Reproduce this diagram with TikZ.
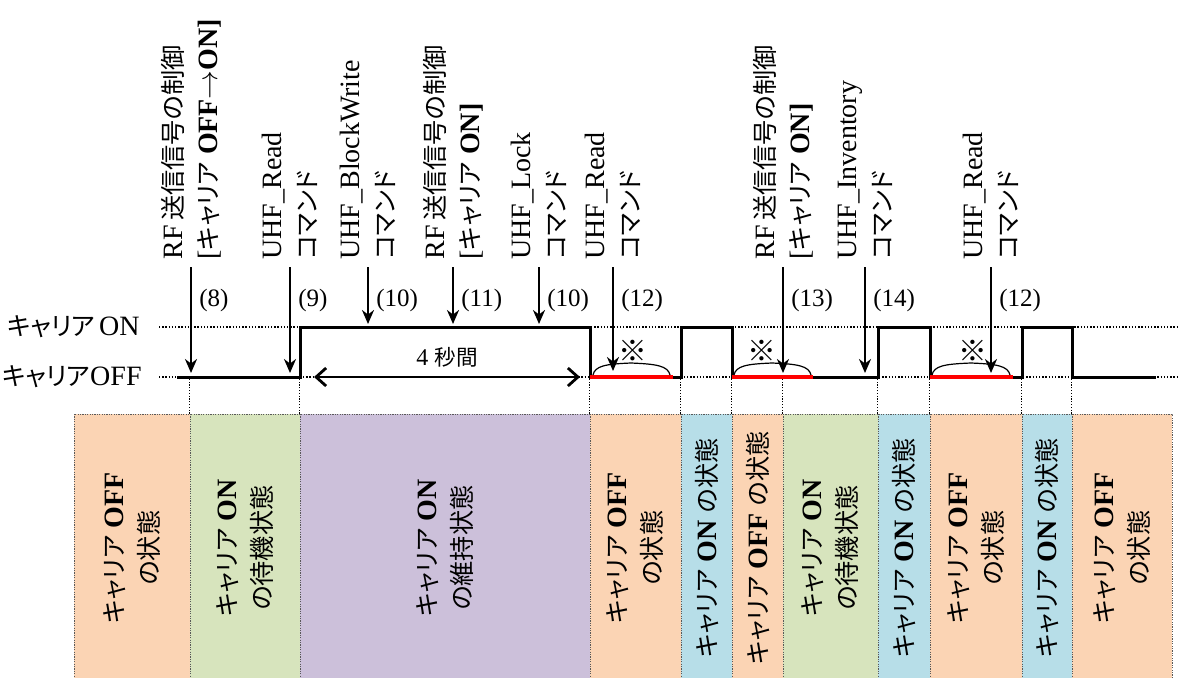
\documentclass[tikz,border=0pt]{standalone}
\usepackage{fontspec}
\setmainfont{Liberation Serif}
\newfontfamily\jpfont[Scale=0.9,RawFeature=+palt]{Noto Sans CJK JP}
\usepackage{xcolor}
\usepackage{tikz}
\usetikzlibrary{arrows.meta,positioning,calc}
\definecolor{offc}{HTML}{FBD4B4}
\definecolor{waitc}{HTML}{D7E4BD}
\definecolor{keepc}{HTML}{CCC0DA}
\definecolor{onc}{HTML}{B7DEE8}
\newcommand{\jt}[1]{{\jpfont #1}}

\begin{document}
\begin{tikzpicture}[
 x=0.5pt, y=-0.5pt,
 font=\fontsize{14pt}{17.5pt}\selectfont,
 >={Stealth[length=7pt,width=6pt]},
 cmdlbl/.style={rotate=90, anchor=west, align=left, inner xsep=3.5pt, inner ysep=0pt},
 num/.style={anchor=west, inner sep=0pt, font=\fontsize{12.5pt}{15pt}\selectfont},
 cmd/.style={->, line width=1.4pt},
 wave/.style={line width=1.5pt, line join=miter},
 idle/.style={line width=2pt, red},
 dotline/.style={line width=0.7pt, dash pattern=on 0.7pt off 0.9pt},
 vdot/.style={line width=0.5pt, dash pattern=on 0.6pt off 0.8pt},
 stbox/.style={rectangle, draw=black!65, line width=0.5pt, dash pattern=on 0.6pt off 0.6pt,
 fill=#1, rotate=90, minimum width=134pt, inner sep=0pt, align=center},
 brc/.style={line width=0.6pt},
]
\useasboundingbox (0,0) rectangle (1178,677);

% carrier levels
\node[anchor=east, inner sep=0pt] (lblOn) at (140,327) {\jt{キャリア}\kern2pt ON};
\node[anchor=east, inner sep=0pt] (lblOff) at (142,377) {\jt{キャリア}OFF};
\coordinate (onEnd) at (1178,327);
\coordinate (offEnd) at (1178,377);
\coordinate (offL) at (159,377);
\draw[dotline] ([xshift=9.5pt]lblOn.east) -- (onEnd);
\draw[dotline] (offL) -- (offEnd);

% state boxes
\node[stbox=offc, minimum height=58pt] (s1) at (132,548) {\jt{キャリア} \textbf{OFF}\\\jt{の状態}};
\node[stbox=waitc, minimum height=55pt] (s2) at (245,548) {\jt{キャリア} \textbf{ON}\\\jt{の待機状態}};
\node[stbox=keepc, minimum height=145pt] (s3) at (445,548) {\jt{キャリア} \textbf{ON}\\\jt{の維持状態}};
\node[stbox=offc, minimum height=45.5pt] (s4) at (635.5,548) {\jt{キャリア} \textbf{OFF}\\\jt{の状態}};
\node[stbox=onc, minimum height=25.5pt] (s5) at (706.5,548) {\jt{キャリア} \textbf{ON} \jt{の状態}};
\node[stbox=offc, minimum height=25.5pt] (s6) at (757.5,548) {\jt{キャリア} \textbf{OFF} \jt{の状態}};
\node[stbox=waitc, minimum height=47.5pt] (s7) at (830.5,548) {\jt{キャリア} \textbf{ON}\\\jt{の待機状態}};
\node[stbox=onc, minimum height=26pt] (s8) at (904,548) {\jt{キャリア} \textbf{ON} \jt{の状態}};
\node[stbox=offc, minimum height=46pt] (s9) at (976,548) {\jt{キャリア} \textbf{OFF}\\\jt{の状態}};
\node[stbox=onc, minimum height=25pt] (s10) at (1047,548) {\jt{キャリア} \textbf{ON} \jt{の状態}};
\node[stbox=offc, minimum height=50pt] (s11) at (1122,548) {\jt{キャリア} \textbf{OFF}\\\jt{の状態}};

% drop lines from the trace to the boxes
\draw[vdot] (s2.north east) -- (s2.north east |- offL);
\draw[vdot] (s3.north east) -- (s3.north east |- offL);
\draw[vdot] (s4.north east) -- (s4.north east |- offL);
\draw[vdot] (s5.north east) -- (s5.north east |- offL);
\draw[vdot] (s6.north east) -- (s6.north east |- offL);
\draw[vdot] (s7.north east) -- (s7.north east |- offL);
\draw[vdot] (s8.north east) -- (s8.north east |- offL);
\draw[vdot] (s9.north east) -- (s9.north east |- offL);
\draw[vdot] (s10.north east) -- (s10.north east |- offL);
\draw[vdot] (s11.north east) -- (s11.north east |- offL);

% carrier trace
\draw[wave] (177,377) -- (300,377) -- (300,327) -- (590,327) -- (590,377) -- (681,377)
 -- (681,327) -- (732,327) -- (732,377) -- (878,377) -- (878,327) -- (930,327) -- (930,377)
 -- (1022,377) -- (1022,327) -- (1072,327) -- (1072,377) -- (1156,377);
\draw[idle] (590,377) -- (673,377);
\draw[idle] (732,377) -- (813,377);
\draw[idle] (930,377) -- (1013,377);

% 4 s hold
\coordinate (holdA) at (314,377);
\coordinate (holdB) at (580,377);
\draw[{Straight Barb[length=5pt,width=9pt]}-{Straight Barb[length=5pt,width=9pt]}, line width=1.4pt]
 (holdA) -- node[above=1pt, font=\fontsize{12pt}{14pt}\selectfont] {4 \jt{秒間}} (holdB);

% retry windows
\draw[brc] (593,375) .. controls (595,366) and (605,364) .. (631,363) .. controls (657,364) and (668,366) .. (670,375);
\draw[brc] (734,375) .. controls (736,366) and (746,364) .. (772,363) .. controls (798,364) and (809,366) .. (811,375);
\draw[brc] (932,375) .. controls (934,366) and (944,364) .. (971,363) .. controls (997,364) and (1008,366) .. (1010,375);
\node[font=\fontsize{16pt}{16pt}\selectfont] (k1) at (633,351) {\jt{※}};
\node[font=\fontsize{16pt}{16pt}\selectfont] (k2) at (762,351) {\jt{※}};
\node[font=\fontsize{16pt}{16pt}\selectfont] (k3) at (973,351) {\jt{※}};

% commands
\node[cmdlbl] (c8) at (191,267) {RF\,\jt{送信信号の制御}\\{}[\jt{キャリア} \textbf{OFF}$\rightarrow$\textbf{ON]}};
\node[cmdlbl] (c9) at (290,267) {UHF\_Read\\\jt{コマンド}};
\node[cmdlbl] (c10a) at (368,267) {UHF\_BlockWrite\\\jt{コマンド}};
\node[cmdlbl] (c11) at (453,267) {RF\,\jt{送信信号の制御}\\{}[\jt{キャリア} \textbf{ON]}};
\node[cmdlbl] (c10b) at (539,267) {UHF\_Lock\\\jt{コマンド}};
\node[cmdlbl] (c12a) at (613,267) {UHF\_Read\\\jt{コマンド}};
\node[cmdlbl] (c13) at (783,267) {RF\,\jt{送信信号の制御}\\{}[\jt{キャリア} \textbf{ON]}};
\node[cmdlbl] (c14) at (865,267) {UHF\_Inventory\\\jt{コマンド}};
\node[cmdlbl] (c12b) at (991,267) {UHF\_Read\\\jt{コマンド}};

\coordinate (t8) at (191,373);
\coordinate (t9) at (290,373);
\coordinate (t10a) at (368,324);
\coordinate (t11) at (453,324);
\coordinate (t10b) at (539,324);
\coordinate (t12a) at (613,371);
\coordinate (t13) at (783,373);
\coordinate (t14) at (865,373);
\coordinate (t12b) at (991,373);
\draw[cmd] (c8.west) -- (t8);
\draw[cmd] (c9.west) -- (t9);
\draw[cmd] (c10a.west) -- (t10a);
\draw[cmd] (c11.west) -- (t11);
\draw[cmd] (c10b.west) -- (t10b);
\draw[cmd] (c12a.west) -- (t12a);
\draw[cmd] (c13.west) -- (t13);
\draw[cmd] (c14.west) -- (t14);
\draw[cmd] (c12b.west) -- (t12b);

\node[num] (n8) at (199,300) {(8)};
\node[num] (n9) at (298,300) {(9)};
\node[num] (n10a) at (376,300) {(10)};
\node[num] (n11) at (461,300) {(11)};
\node[num] (n10b) at (547,300) {(10)};
\node[num] (n12a) at (621,300) {(12)};
\node[num] (n13) at (791,300) {(13)};
\node[num] (n14) at (873,300) {(14)};
\node[num] (n12b) at (999,300) {(12)};
\end{tikzpicture}
\end{document}
